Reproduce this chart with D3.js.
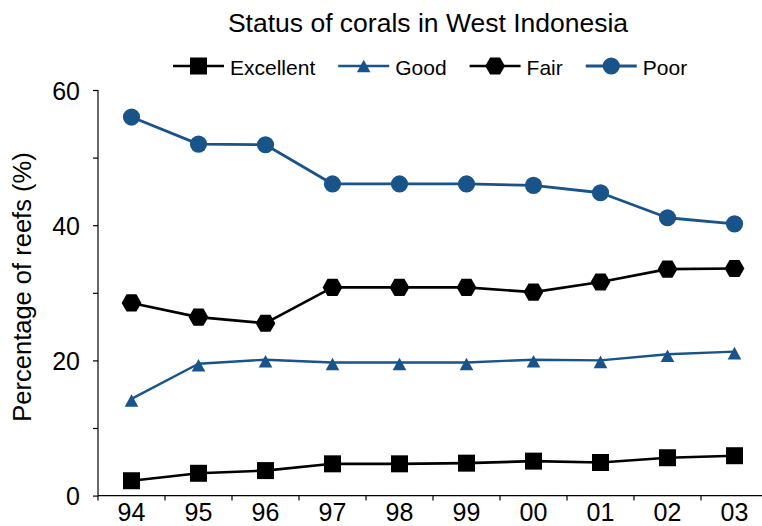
<!DOCTYPE html>
<html>
<head>
<meta charset="utf-8">
<script src="https://cdn.jsdelivr.net/npm/d3@7"></script>
<style>
  html, body { margin: 0; padding: 0; background: #fff; }
  svg { display: block; font-family: "Liberation Sans", Arial, Helvetica, sans-serif; }
</style>
</head>
<body>
<svg id="chart" width="762" height="526"></svg>
<script>
// ---- data ----
const years = ["94", "95", "96", "97", "98", "99", "00", "01", "02", "03"];
const excellent = [2.2, 3.3, 3.7, 4.7, 4.7, 4.8, 5.1, 4.9, 5.6, 5.9];
const good      = [14.3, 19.5, 20.1, 19.7, 19.7, 19.7, 20.1, 20.0, 20.9, 21.3];
const fair      = [28.5, 26.4, 25.5, 30.8, 30.8, 30.8, 30.1, 31.6, 33.5, 33.6];
const poor      = [56.0, 52.0, 51.9, 46.1, 46.1, 46.1, 45.9, 44.8, 41.1, 40.2];
const yTicks = [0, 10, 20, 30, 40, 50, 60];
const seriesNames = ["Excellent", "Good", "Fair", "Poor"];
const titleText = "Status of corals in West Indonesia";
const yLabel = "Percentage of reefs (%)";

const BLUE = "#18548a";
const series = [
  { name: seriesNames[0], values: excellent, color: "#000", shape: "square",   lw: 2.6 },
  { name: seriesNames[1], values: good,      color: BLUE,   shape: "triangle", lw: 2.4 },
  { name: seriesNames[2], values: fair,      color: "#000", shape: "hexagon",  lw: 2.6 },
  { name: seriesNames[3], values: poor,      color: BLUE,   shape: "circle",   lw: 2.8 }
];

const svg = d3.select("#chart");

const x = d3.scaleBand().domain(years).range([98, 768]).paddingInner(0).paddingOuter(0);
const y = d3.scaleLinear().domain([0, 60]).range([495.6, 90]);
const cx = d => x(d) + x.bandwidth() / 2;

// marker path generators
function markerPath(shape) {
  switch (shape) {
    case "square": { const h = 8.5; return `M${-h},${-h}H${h}V${h}H${-h}Z`; }
    case "triangle": return "M0,-4.8L6.8,7.8L-6.8,7.8Z";
    case "hexagon": {
      const R = 9.9, k = R * Math.sqrt(3) / 2;
      return `M${-R},0L${-R/2},${-k}L${R/2},${-k}L${R},0L${R/2},${k}L${-R/2},${k}Z`;
    }
    case "circle": { const r = 8.6; return `M${r},0A${r},${r} 0 1,1 ${-r},0A${r},${r} 0 1,1 ${r},0Z`; }
  }
}

// ---- axes ----
const yAxis = d3.axisLeft(y).tickValues(yTicks).tickSize(5).tickPadding(13)
  .tickFormat(d => d % 20 === 0 ? d : "");
const gy = svg.append("g").attr("transform", "translate(98,0)").call(yAxis);
gy.select(".domain").attr("d", `M0,${y(60)}V${y(0)}`).attr("stroke", "#000").attr("stroke-width", 1.2);
gy.selectAll(".tick line").attr("stroke", "#000").attr("stroke-width", 1.2);
gy.selectAll(".tick text").attr("font-size", 25).attr("fill", "#000")
  .attr("font-family", "Liberation Sans, Arial, sans-serif").attr("dy", "0.36em");

// x axis: line, boundary ticks, centered labels
const gx = svg.append("g");
gx.append("line").attr("x1", 98).attr("x2", 762).attr("y1", y(0)).attr("y2", y(0))
  .attr("stroke", "#000").attr("stroke-width", 1.2);
const bounds = years.map(d => x(d)).concat([x(years[years.length - 1]) + x.bandwidth()]);
gx.selectAll("line.tk").data(bounds).enter().append("line").attr("class", "tk")
  .attr("x1", d => d).attr("x2", d => d).attr("y1", y(0)).attr("y2", y(0) + 5)
  .attr("stroke", "#000").attr("stroke-width", 1.2);
gx.selectAll("text").data(years).enter().append("text")
  .attr("x", d => cx(d)).attr("y", 521).attr("text-anchor", "middle")
  .attr("font-size", 25).attr("fill", "#000").text(d => d);

// y label
svg.append("text")
  .attr("transform", "translate(31,287) rotate(-90)")
  .attr("text-anchor", "middle").attr("font-size", 25.5).attr("fill", "#000")
  .text(yLabel);

// title
svg.append("text").attr("x", 428).attr("y", 32).attr("text-anchor", "middle")
  .attr("font-size", 26.5).attr("fill", "#000").text(titleText);

// ---- series ----
const line = d3.line().x((d, i) => cx(years[i])).y(d => y(d));
series.forEach(s => {
  const g = svg.append("g");
  g.append("path").datum(s.values).attr("d", line)
    .attr("fill", "none").attr("stroke", s.color).attr("stroke-width", s.lw)
    .attr("stroke-linejoin", "round");
  g.selectAll("path.m").data(s.values).enter().append("path").attr("class", "m")
    .attr("d", markerPath(s.shape))
    .attr("transform", (d, i) => `translate(${cx(years[i])},${y(d)})`)
    .attr("fill", s.color);
});

// ---- legend ----
const legend = svg.append("g");
let lx = 173;
const ly = 66;
series.forEach(s => {
  const g = legend.append("g");
  g.append("line").attr("x1", lx).attr("x2", lx + 51).attr("y1", ly).attr("y2", ly)
    .attr("stroke", s.color).attr("stroke-width", s.lw);
  g.append("path").attr("d", markerPath(s.shape))
    .attr("transform", `translate(${lx + 25.5},${s.shape === "triangle" ? ly - 1.5 : ly})`)
    .attr("fill", s.color);
  const t = g.append("text").attr("x", lx + 57).attr("y", ly + 8.5)
    .attr("font-size", 21).attr("fill", "#000").text(s.name);
  const w = t.node().getComputedTextLength();
  lx = lx + 57 + w + 23;
});
</script>
</body>
</html>
